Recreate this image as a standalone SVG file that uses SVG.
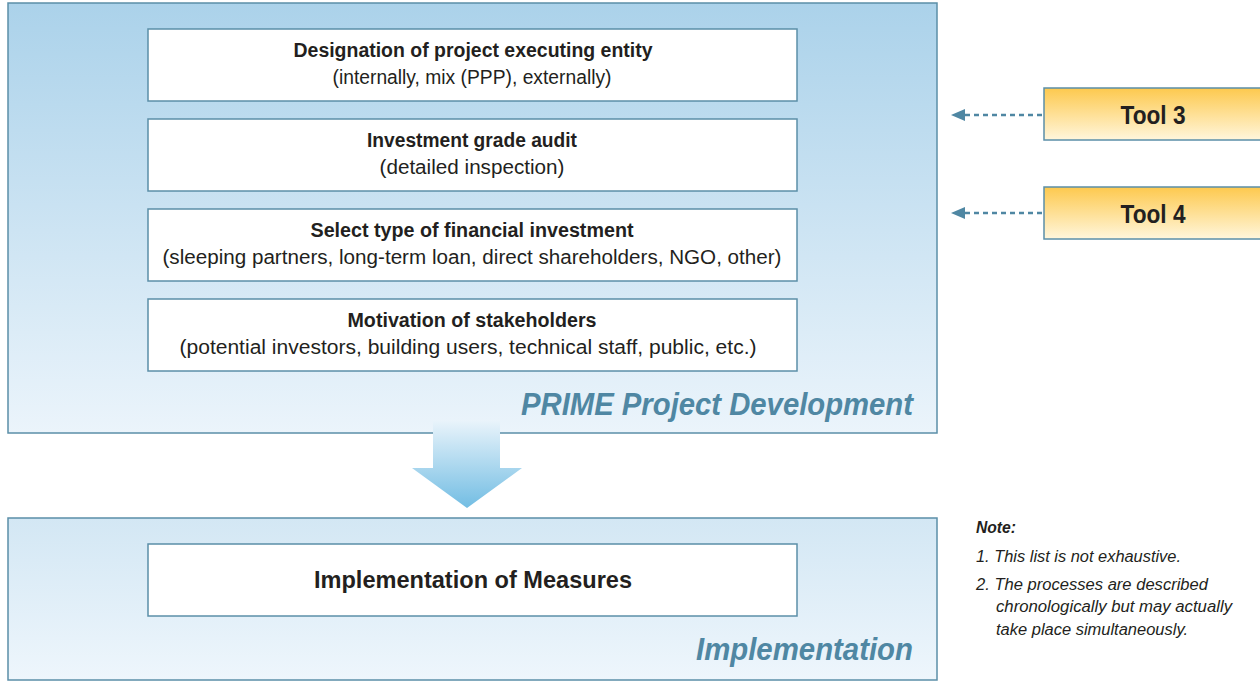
<svg xmlns="http://www.w3.org/2000/svg" width="1260" height="684" viewBox="0 0 1260 684">
<defs>
<linearGradient id="panel" x1="0" y1="0" x2="0" y2="1"><stop offset="0" stop-color="#abd2ea"/><stop offset="1" stop-color="#ebf4fb"/></linearGradient>
<linearGradient id="panel2" x1="0" y1="0" x2="0" y2="1"><stop offset="0" stop-color="#d3e7f4"/><stop offset="1" stop-color="#eef6fc"/></linearGradient>
<linearGradient id="tool" x1="0" y1="0" x2="0" y2="1"><stop offset="0" stop-color="#fdc94e"/><stop offset="1" stop-color="#fff6dc"/></linearGradient>
<linearGradient id="arr" x1="0" y1="0" x2="0" y2="1"><stop offset="0" stop-color="#eaf4fb"/><stop offset="1" stop-color="#72bde3"/></linearGradient>
<marker id="ah" markerWidth="14" markerHeight="12" refX="13" refY="6" orient="auto" markerUnits="userSpaceOnUse"><path d="M0,0 L14,6 L0,12 Z" fill="#4f87a3"/></marker>
<style>
.panel{stroke:#5b8fa8;stroke-width:1.5}
.box{fill:#fff;stroke:#5b8fa8;stroke-width:1.5}
.t{font-family:"Liberation Sans",Arial,sans-serif;fill:#231f20;text-anchor:middle}
.b{font-weight:bold;font-size:20px}
.n{font-size:20px}
.lab{font-family:"Liberation Sans",Arial,sans-serif;font-weight:bold;font-style:italic;fill:#4f87a3;text-anchor:end;font-size:32px}
.tool{fill:url(#tool);stroke:#5b8fa8;stroke-width:1.5}
.conn{stroke:#4f87a3;stroke-width:2.5;stroke-dasharray:5 4;fill:none}
.note{font-family:"Liberation Sans",Arial,sans-serif;font-style:italic;font-size:16px;fill:#231f20}
</style>
</defs>
<g id="panel-dev"><rect x="8" y="3" width="929" height="430" fill="url(#panel)" class="panel"/>
<text class="lab" x="913" y="415" textLength="392" lengthAdjust="spacingAndGlyphs">PRIME Project Development</text></g>
<g id="down-arrow"><path d="M433,420 L500,420 L500,468 L522,468 L467,508 L412,468 L433,468 Z" fill="url(#arr)"/></g>
<g id="panel-impl"><rect x="8" y="518" width="929" height="162" fill="url(#panel2)" class="panel"/>
<text class="lab" x="913" y="660" textLength="217" lengthAdjust="spacingAndGlyphs">Implementation</text></g>
<g id="n1"><rect class="box" x="148" y="29" width="649" height="72"/>
<text class="t b" x="473" y="57" textLength="359" lengthAdjust="spacingAndGlyphs">Designation of project executing entity</text>
<text class="t n" x="472" y="84" textLength="279" lengthAdjust="spacingAndGlyphs">(internally, mix (PPP), externally)</text></g>
<g id="n2"><rect class="box" x="148" y="119" width="649" height="72"/>
<text class="t b" x="472" y="147" textLength="210" lengthAdjust="spacingAndGlyphs">Investment grade audit</text>
<text class="t n" x="472" y="174" textLength="185" lengthAdjust="spacingAndGlyphs">(detailed inspection)</text></g>
<g id="n3"><rect class="box" x="148" y="209" width="649" height="72"/>
<text class="t b" x="472" y="237" textLength="323" lengthAdjust="spacingAndGlyphs">Select type of financial investment</text>
<text class="t n" x="472" y="264" textLength="619" lengthAdjust="spacingAndGlyphs">(sleeping partners, long-term loan, direct shareholders, NGO, other)</text></g>
<g id="n4"><rect class="box" x="148" y="299" width="649" height="72"/>
<text class="t b" x="472" y="327" textLength="249" lengthAdjust="spacingAndGlyphs">Motivation of stakeholders</text>
<text class="t n" x="468" y="354" textLength="577" lengthAdjust="spacingAndGlyphs">(potential investors, building users, technical staff, public, etc.)</text></g>
<g id="n5"><rect class="box" x="148" y="544" width="649" height="72"/>
<text class="t" x="473" y="588" font-weight="bold" font-size="24" textLength="318" lengthAdjust="spacingAndGlyphs">Implementation of Measures</text></g>
<g id="tool3"><rect class="tool" x="1044" y="88" width="222" height="52"/>
<text class="t" x="1153" y="124" font-weight="bold" font-size="25" textLength="65" lengthAdjust="spacingAndGlyphs">Tool 3</text></g>
<g id="tool4"><rect class="tool" x="1044" y="187" width="222" height="52"/>
<text class="t" x="1153" y="223" font-weight="bold" font-size="25" textLength="65" lengthAdjust="spacingAndGlyphs">Tool 4</text></g>
<g id="connectors">
<line class="conn" x1="1042" y1="115" x2="952" y2="115" marker-end="url(#ah)"/>
<line class="conn" x1="1042" y1="213" x2="952" y2="213" marker-end="url(#ah)"/>
</g>
<g id="note">
<text class="note" x="976" y="533" font-weight="bold" font-size="15" textLength="40" lengthAdjust="spacingAndGlyphs">Note:</text>
<text class="note" x="976" y="562" textLength="205" lengthAdjust="spacingAndGlyphs">1.  This list is not exhaustive.</text>
<text class="note" x="976" y="590" textLength="232" lengthAdjust="spacingAndGlyphs">2.  The processes are described</text>
<text class="note" x="996" y="612" textLength="236" lengthAdjust="spacingAndGlyphs">chronologically but may actually</text>
<text class="note" x="996" y="635" textLength="192" lengthAdjust="spacingAndGlyphs">take place simultaneously.</text>
</g>
</svg>
